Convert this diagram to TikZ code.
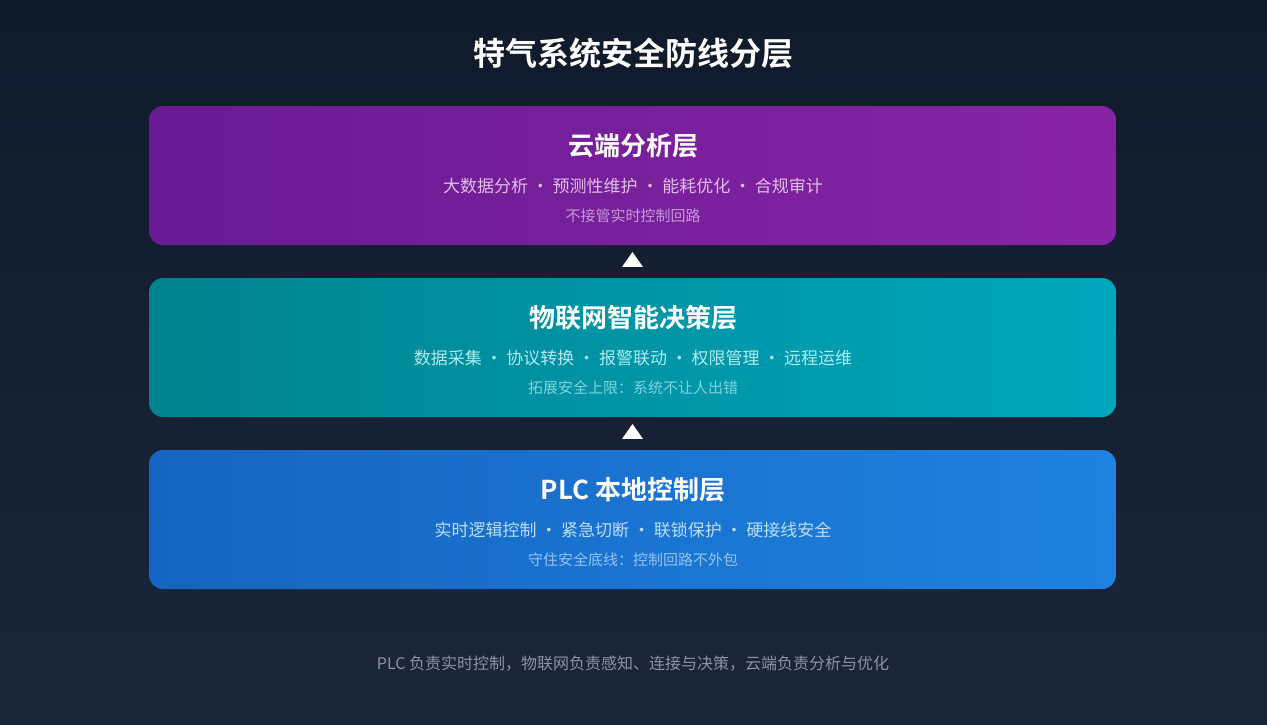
\documentclass[tikz,border=0pt]{standalone}
\usepackage{fontspec}
\setmainfont{Noto Sans CJK SC}
\newfontfamily\cjkb{Noto Sans CJK SC Bold}
\usetikzlibrary{shapes.geometric,calc}
\definecolor{bgtop}{HTML}{0F1A2B}
\definecolor{bgbot}{HTML}{1B263B}
\definecolor{pL}{HTML}{691B93}
\definecolor{pR}{HTML}{8724A5}
\definecolor{tL}{HTML}{00838F}
\definecolor{tR}{HTML}{00A6BC}
\definecolor{bL}{HTML}{1565C0}
\definecolor{bR}{HTML}{1F82E0}
\definecolor{pSub}{HTML}{E1BEE7}
\definecolor{pSm}{HTML}{C996D8}
\definecolor{tSub}{HTML}{B2EBF2}
\definecolor{tSm}{HTML}{80D4E0}
\definecolor{bSub}{HTML}{BBDEFB}
\definecolor{bSm}{HTML}{90C4F5}
\definecolor{foot}{HTML}{8A94A6}
\tikzset{
  layerbox/.style={rounded corners=14pt, minimum width=967pt, minimum height=139pt, inner sep=0pt, draw=none},
  ttl/.style={text=white, font=\cjkb\fontsize{26}{30}\selectfont, inner sep=0pt, anchor=center},
  sub/.style={font=\fontsize{17}{20}\selectfont, inner sep=0pt, anchor=center},
  sml/.style={font=\fontsize{15}{18}\selectfont, inner sep=0pt, anchor=center},
  tri/.style={isosceles triangle, isosceles triangle apex angle=70, shape border rotate=90, fill=white, draw=none, inner sep=0pt, minimum height=14pt, minimum width=21pt}
}
\begin{document}
\begin{tikzpicture}[x=1pt,y=-1pt]
\useasboundingbox (0,0) rectangle (1267,724);
\shade[top color=bgtop, bottom color=bgbot] (0,0) rectangle (1267,724);
\node[text=white, font=\cjkb\fontsize{32}{36}\selectfont, inner sep=0pt] (title) at (633,53) {特气系统安全防线分层};
% layer boxes
\node[layerbox, left color=pL, right color=pR] (cloud) at (632.5,175.5) {};
\node[layerbox, left color=tL, right color=tR] (iot) at (632.5,347.5) {};
\node[layerbox, left color=bL, right color=bR] (plc) at (632.5,519.5) {};
% cloud texts
\node[ttl] (cloudT) at (633,146) {云端分析层};
\node[sub, text=pSub] (cloudS) at (633,186) {大数据分析 · 预测性维护 · 能耗优化 · 合规审计};
\node[sml, text=pSm] (cloudN) at (633,216) {不接管实时控制回路};
% iot texts
\node[ttl] (iotT) at (633,318) {物联网智能决策层};
\node[sub, text=tSub] (iotS) at (633,358) {数据采集 · 协议转换 · 报警联动 · 权限管理 · 远程运维};
\node[sml, text=tSm] (iotN) at (633,388) {拓展安全上限：系统不让人出错};
% plc texts
\node[ttl] (plcT) at (633,490) {PLC 本地控制层};
\node[sub, text=bSub] (plcS) at (633,530) {实时逻辑控制 · 紧急切断 · 联锁保护 · 硬接线安全};
\node[sml, text=bSm] (plcN) at (633,560) {守住安全底线：控制回路不外包};
% arrows
\node[tri] (a1) at ($(iot.north)!0.5!(cloud.south)$) {};
\node[tri] (a2) at ($(plc.north)!0.5!(iot.south)$) {};
% footer
\node[font=\fontsize{16}{19}\selectfont, text=foot, inner sep=0pt] (footer) at (633,664) {PLC 负责实时控制，物联网负责感知、连接与决策，云端负责分析与优化};
\end{tikzpicture}
\end{document}
